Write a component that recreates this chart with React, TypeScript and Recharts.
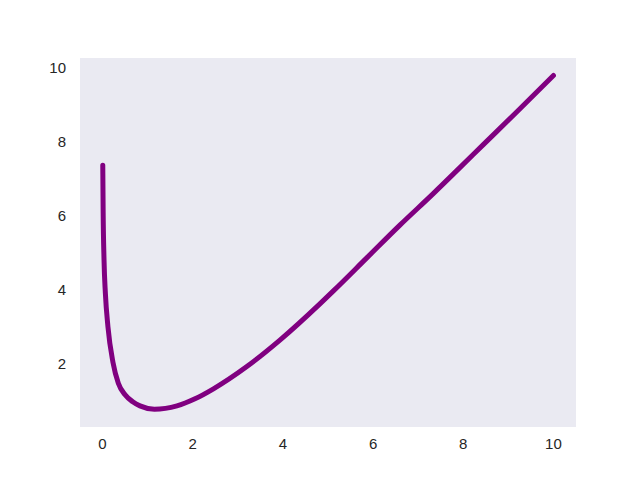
import { CartesianGrid, Line, LineChart, XAxis, YAxis } from "recharts";

// values
const xValues = [
  0.005, 0.013, 0.033, 0.063, 0.12, 0.23, 0.35, 0.5, 0.67, 0.83, 1.15, 1.65, 2.05, 2.46, 3.2,
  3.94, 4.82, 5.12, 5.86, 6.6, 7.34, 7.93, 8.45, 9.19, 10,
];
const yValues = [
  7.36, 6.15, 4.8, 3.9, 3.0, 2.05, 1.48, 1.17, 0.98, 0.87, 0.78, 0.87, 1.06, 1.33, 1.93, 2.65,
  3.62, 3.97, 4.86, 5.75, 6.6, 7.3, 7.92, 8.8, 9.78,
];
const xTicks = [0, 2, 4, 6, 8, 10];
const yTicks = [2, 4, 6, 8, 10];

const data = xValues.map((x, i) => ({ x, y: yValues[i] }));

const tickStyle = { fill: "#262626", fontSize: 15, fontFamily: "'Liberation Sans', Arial, sans-serif" };

export default function App() {
  return (
    <div style={{ position: "absolute", left: 0, top: 0, width: 640, height: 480, background: "#fff" }}>
      <LineChart width={640} height={480} data={data} margin={{ top: 58, right: 64, bottom: 23, left: 0 }}>
        <CartesianGrid fill="#EAEAF2" stroke="none" horizontal={false} vertical={false} />
        <XAxis
          dataKey="x"
          type="number"
          domain={[-0.5, 10.5]}
          ticks={xTicks}
          height={30}
          axisLine={false}
          tickLine={false}
          tickSize={0}
          tickMargin={11}
          tick={tickStyle}
        />
        <YAxis
          type="number"
          domain={[0.3, 10.25]}
          ticks={yTicks}
          width={80}
          axisLine={false}
          tickLine={false}
          tickSize={0}
          tickMargin={14}
          tick={tickStyle}
          allowDataOverflow
        />
        <Line
          dataKey="y"
          type="monotone"
          stroke="#800080"
          strokeWidth={5}
          strokeLinecap="round"
          dot={false}
          isAnimationActive={false}
        />
      </LineChart>
    </div>
  );
}
